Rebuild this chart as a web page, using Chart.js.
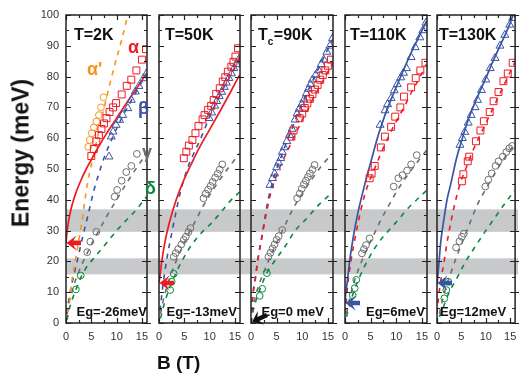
<!DOCTYPE html>
<html><head><meta charset="utf-8">
<script src="https://cdn.jsdelivr.net/npm/chart.js@4.4.1/dist/chart.umd.min.js"></script>
<style>
html,body{margin:0;padding:0;background:#fff;}
#wrap{position:relative;width:521px;height:376px;overflow:hidden;background:#fff;}
#wrap canvas{position:absolute;top:0;}
.lab{position:absolute;white-space:nowrap;font-family:"Liberation Sans",Arial,sans-serif;font-weight:bold;color:#111;line-height:normal;}
#ylab{left:21px;top:153px;font-size:23px;transform:translate(-50%,-50%) rotate(-90deg);}
#xlab{left:157px;top:352px;font-size:19px;}
</style></head><body>
<div id="wrap">
<canvas id="c0"></canvas><canvas id="c1"></canvas><canvas id="c2"></canvas><canvas id="c3"></canvas><canvas id="c4"></canvas>
<div class="lab" id="ylab">Energy (meV)</div>
<div class="lab" id="xlab">B (T)</div>
</div>
<script>
// ---------- DATA ----------
const panelTitles = ['T=2K', 'T=50K', 'Tc=90K', 'T=110K', 'T=130K'];
const egLabels = ['Eg=-26meV', 'Eg=-13meV', 'Eg=0 meV', 'Eg=6meV', 'Eg=12meV'];
const arrowEnergy = [26, 13, 0, 6.5, 13];
const xTicks = [0, 5, 10, 15];
const yTicks = [0, 10, 20, 30, 40, 50, 60, 70, 80, 90, 100];
const bandLow = [15.8, 21.0];
const bandHigh = [29.6, 36.9];

// T = 2K
const alpha_2K = [[5.0,54.2],[5.5,56.5],[6.0,59],[6.5,61],[7.0,63],[7.5,64.8],[8.0,66.5],[8.6,68.5],[9.3,70],[9.9,71.4],[11.0,74.2],[12.0,77],[12.9,79],[13.9,82],[15.0,85.5],[15.8,88.9]];
const alphaP_2K = [[4.4,57.2],[4.7,59.4],[5.1,61.6],[5.5,63.5],[6.0,65.4],[6.5,67.5],[6.9,70],[7.4,73.3]];
const beta_2K = [[8.5,54],[8.95,60.5],[9.3,62.1],[9.9,64.3],[10.6,65.9],[11.2,67.5],[12.2,69.7],[12.9,72.4],[13.7,75.1],[14.4,76.9],[15.3,79.4],[15.9,81]];
const gamma_2K = [[4.2,23],[4.8,26.4],[6.0,29.6],[9.6,41],[10.1,43.2],[11.0,46.2],[11.9,49],[12.9,51],[14.0,54.9]];
const delta_2K = [[1.96,10.9],[2.9,15.4]];
const alphaFit_2K = [[0,26],[0.2,29.5],[0.5,33],[1,37],[1.5,40],[2,42.5],[3,46.5],[4,50],[5,53],[6,56],[8,61.5],[10,66.5],[12,71.5],[14,76.3],[15.9,81]];
const alphaPLine_2K = [[0,0],[0.2,2.5],[0.5,5],[0.8,8.5],[1.1,13],[1.6,18],[2.2,23.7],[2.75,29],[3.3,34.5],[3.7,39.5],[4.2,45],[5.5,55],[7.4,69],[9.5,83],[11,92],[12.2,100]];
const betaLine_2K = [[0.2,3],[0.5,7],[1,11.5],[1.7,16.5],[2.4,21.5],[3.3,28],[4.2,34],[5.5,43],[6.5,48.5],[7.6,54],[9,59.5],[11,66.5],[13,72.5],[15.9,81]];
const gammaLine_2K = [[0.2,3],[0.5,6],[1,9],[2,14.5],[3,18.5],[4,22],[5,25.5],[6,28.5],[8,34.5],[10,40],[12,45.5],[14,50.5],[15.9,55]];
const deltaLine_2K = [[0.2,1],[0.5,3.5],[1,6.5],[2,11],[3,15],[4,18],[6,22],[8,26],[10,30],[12,33.5],[14,37],[15.9,41]];

// T = 50K
const alpha_50K = [[4.9,53.5],[5.4,55.6],[5.9,57.6],[6.6,59.4],[7.2,61.6],[7.8,64],[8.6,66.1],[9.0,67.5],[9.7,69.2],[10.3,70.5],[10.8,72.4],[11.3,74.4],[12.0,76.2],[12.6,78.4],[13.1,79.8],[13.6,81.6],[14.3,83.2],[14.7,84.8],[15.1,86.5],[15.6,89.2]];
const beta_50K = [[9.9,66.5],[10.4,68.3],[11.0,70.5],[11.4,72],[11.9,73.6],[12.4,75],[12.9,76.6],[13.3,78],[13.8,79.5],[14.3,81],[14.8,82.7],[15.3,84],[15.7,85.4]];
const gamma_50K = [[2.9,21.5],[3.3,22.7],[3.8,24],[4.4,25.5],[4.9,27],[5.3,28],[5.8,29.5],[6.2,30.8],[8.8,40.5],[9.2,42],[9.7,43.3],[10.2,44.5],[10.6,45.8],[11.1,47.2],[11.6,48.5],[12.0,49.8],[12.5,51.5]];
const delta_50K = [[2.2,10.7],[2.5,13.4],[2.9,16]];
const alphaFit_50K = [[0,13],[0.25,16],[0.5,19.5],[1.2,26.5],[2.2,33.5],[3.5,40.5],[4.8,46],[6.5,52],[8,57],[10,62.8],[12,68.6],[14,74.6],[15.9,80.5]];
const betaLine_50K = [[0.2,4],[0.7,11.3],[1.2,17.2],[1.8,23.2],[2.5,29],[3.3,35.6],[4.0,41],[4.8,46],[5.8,51],[7,55.5],[8.4,60.5],[9.5,65],[11,70.5],[12.5,75.5],[14,80],[15.9,86]];
const gammaLine_50K = [[0.3,3],[1,8.5],[2,14],[3,18.5],[4,22.5],[5,26],[6,29.5],[7,32.5],[8.4,37],[10,41.5],[12,46.5],[14,51],[15.9,55]];
const deltaLine_50K = [[0.3,1.5],[1,6],[2,11],[3,15],[4.5,20],[6.5,25.5],[8.5,29.5],[10.4,32.5],[12.5,36.5],[14,39.5],[15.9,42.5]];

// Tc = 90K
const alpha_90K = [[7.9,60.5],[8.3,62.5],[9.5,66.5],[10.0,68],[10.5,69.8],[11.0,71.3],[11.5,72.8],[12.0,74.3],[12.5,75.8],[13.0,77.3],[13.5,79],[14.0,80.5],[14.5,82],[15.0,83.5],[15.6,85.5]];
const beta_90K = [[3.7,44.8],[4.2,47],[4.6,48.5],[5.0,50.5],[5.4,52],[5.8,53.5],[6.1,55.5],[6.5,57],[7.0,59],[7.5,61],[8.0,63],[8.6,66],[9.0,68],[9.4,69.5],[9.9,71],[10.3,72.5],[10.8,74.5],[11.2,76],[11.6,77.5],[12.0,79],[12.6,80.5],[13.2,82],[13.7,84],[14.2,85.5],[14.8,88],[15.4,90],[15.9,92.4]];
const gamma_90K = [[3.4,21.5],[3.8,22.8],[4.2,24.2],[4.6,25.5],[5.0,27],[5.4,28.2],[6.1,30.2],[9.0,40.5],[9.5,42],[9.9,43.6],[10.3,45],[10.7,46.2],[11.1,47.4],[11.5,48.6],[12.0,49.8],[12.4,51.3]];
const delta_90K = [[1.7,8.8],[2.2,11.1],[3.1,16.2]];
const alphaLine_90K = [[0,0],[0.25,7],[0.8,13.5],[1.4,21],[2.1,27.5],[2.75,33.5],[3.4,39],[4,43],[5,48],[6,52],[7,55.5],[8,59],[9,62.5],[10,66],[11,69],[12,72.5],[13,75.5],[14,78.5],[15,81.5],[15.9,84]];
const betaLine_90K = [[0,0],[0.25,7.5],[0.8,14.5],[1.4,21.5],[2.1,28],[2.75,34.5],[3.4,40.5],[4,44.5],[5,50],[6,54.5],[7,59],[8,63],[9,67.5],[10,71.5],[11,75],[12,78.5],[13,82],[14,85.5],[15,89],[15.9,92]];
const gammaLine_90K = [[0,0],[0.3,4.5],[1,9.5],[2,14.5],[3,18.5],[4,22.5],[5,26],[6,29.5],[7,33],[8,36.5],[10,42],[12,47],[14,51.5],[15.9,55]];
const deltaLine_90K = [[0,0],[0.3,3],[1,7.5],[2,12],[3,16],[5,21],[6.7,25],[8.6,30],[10.9,34],[12.9,37.8],[15.9,42.5]];

// T = 110K
const alpha_110K = [[4.8,47],[5.2,48.5],[5.8,51],[7.0,57],[7.8,60.5],[9.0,63.7],[9.8,67],[10.8,70],[11.5,73.5],[12.9,76.5],[13.8,79.5],[14.7,82],[15.7,84.5]];
const beta_110K = [[6.85,64.3],[7.8,69],[8.3,71],[9.0,73],[9.6,75.5],[10.2,77.5],[10.9,79.7],[11.4,81.2],[12.0,82.7],[12.9,86.3],[13.7,89.5],[14.6,92.7],[15.2,95],[15.8,97.5]];
const gamma_110K = [[3.3,22.6],[3.7,24],[4.1,25.3],[4.8,27.5],[9.5,44.3],[10.4,47],[11.2,48],[12.1,49.5],[12.9,51.5],[14.0,54.5]];
const delta_110K = [[1.5,9],[1.9,11.3],[2.2,14]];
const betaFit_110K = [[0,6.5],[0.1,9],[0.45,13.5],[0.9,20],[1.57,27.5],[2.55,36],[3.86,45],[5.16,53],[6.5,61],[7.8,67.5],[9.1,73],[11.0,80.5],[12.7,87],[14.3,92.5],[15.9,98]];
const alphaLine_110K = [[0,3],[0.2,6],[0.5,12],[1.2,20.5],[1.9,27],[2.55,32.5],[3.5,39.5],[4.5,45],[5.5,49],[7,55],[8.5,60.5],[10,65.5],[11.5,70],[13,75],[14.5,79.5],[15.9,84]];
const gammaLine_110K = [[0.3,3],[1,8.5],[2,14.5],[3,19],[4,23],[5,26.5],[6,30],[7,33.5],[8.5,38],[10,42.5],[12,47.5],[14,52],[15.9,56]];
const deltaLine_110K = [[0.3,2],[1,6.5],[2,11.5],[3,15.5],[4.8,21.5],[6.5,26],[8.5,30],[10.4,33.5],[12,36.7],[14.3,40.5],[15.9,43]];

// T = 130K
const alpha_130K = [[5.1,46],[5.4,48.3],[6.3,52.5],[6.6,54],[8.0,59],[8.9,62.5],[9.6,65.5],[10.8,68.5],[11.6,72],[12.6,75],[13.6,78.5],[14.5,81],[15.5,84.5]];
const beta_130K = [[4.7,57.8],[5.2,60],[5.7,62],[6.4,65],[7.0,67.5],[7.8,70],[8.3,72.4],[9.1,75.6],[10.0,79],[10.9,82.7],[11.9,86],[12.9,90],[13.9,93.5],[14.9,96.8],[15.5,99]];
const gamma_130K = [[3.9,24.5],[4.6,26.5],[5.1,28],[5.5,29],[9.9,44.3],[10.5,46.5],[11.2,48.6],[12.0,51],[12.6,52.5],[13.5,54],[14.2,55.5],[14.8,56.7],[15.4,57.5]];
const delta_130K = [[1.5,8],[1.9,10.7],[2.3,13.4]];
const betaFit_130K = [[0,12.5],[0.1,14],[0.4,19.5],[0.75,26],[1.3,32.5],[2.05,40],[2.8,45],[4.0,53.5],[5.0,59],[6.3,65.5],[7.9,72],[9.0,76],[10,79.5],[11.2,84],[12.9,90],[14.5,95.5],[15.6,100]];
const alphaLine_130K = [[0,3],[0.3,8],[0.7,13],[1.4,19.5],[2.05,26],[3.0,34],[4.0,41],[4.8,45.5],[6,50.5],[7.5,56.5],[9,61.5],[10.5,66.5],[12,71.5],[13.5,76.5],[15,81.5],[15.9,84.5]];
const gammaLine_130K = [[0.5,3],[1.2,8],[2,12.5],[3,17],[4,21.5],[5,25.5],[6,29.5],[7,33.5],[8.3,38.5],[10,43.5],[12,49],[14,54],[15.9,58]];
const deltaLine_130K = [[0.5,2],[1.5,6],[2.5,10],[3.9,14],[5.7,19.5],[7.7,24.5],[10,30],[12.2,35],[14,39],[15.9,43]];

// ---------- STYLE / LAYOUT ----------
const FONT = '"Liberation Sans", Arial, sans-serif';
const C = { red:'#ec1c24', blue:'#3a54a4', orange:'#f7941d', gray:'#6d6e71', green:'#0b8a3e', band:'#c8c9ca', frame:'#222', black:'#111' };
const plotLeft = [66, 159, 251, 345, 437];
const plotRight = [147, 240, 333, 427, 518];
const PLOT_TOP = 15, PLOT_BOTTOM = 323, H = 376, W = 521;

const toXY = arr => arr.map(p => ({ x: p[0], y: p[1] }));
function marks(arr, style, color, r) {
  return { data: toXY(arr), showLine: false, pointStyle: style, pointRadius: r, pointHoverRadius: r,
    pointBorderColor: color, pointBackgroundColor: 'rgba(255,255,255,0)', pointBorderWidth: 1, borderColor: color };
}
function curve(arr, color, dashed, w) {
  return { data: toXY(arr), showLine: true, pointRadius: 0, pointHoverRadius: 0, borderColor: color,
    borderWidth: w || 1.6, borderDash: dashed ? [5, 5.5] : [], cubicInterpolationMode: 'monotone', fill: false };
}
const SQ = 4.9, TR = 4.6, CI = 3.4;

const panelData = [
  [ marks(alpha_2K,'rect',C.red,SQ), marks(alphaP_2K,'circle',C.orange,CI), marks(beta_2K,'triangle',C.blue,TR),
    marks(gamma_2K,'circle',C.gray,CI), marks(delta_2K,'circle',C.green,CI),
    curve(alphaFit_2K,C.red,false,1.7), curve(alphaPLine_2K,C.orange,true), curve(betaLine_2K,C.blue,true),
    curve(gammaLine_2K,C.gray,true), curve(deltaLine_2K,C.green,true) ],
  [ marks(alpha_50K,'rect',C.red,SQ), marks(beta_50K,'triangle',C.blue,TR),
    marks(gamma_50K,'circle',C.gray,CI), marks(delta_50K,'circle',C.green,CI),
    curve(alphaFit_50K,C.red,false,1.7), curve(betaLine_50K,C.blue,true),
    curve(gammaLine_50K,C.gray,true), curve(deltaLine_50K,C.green,true) ],
  [ marks(alpha_90K,'rect',C.red,SQ), marks(beta_90K,'triangle',C.blue,TR),
    marks(gamma_90K,'circle',C.gray,CI), marks(delta_90K,'circle',C.green,CI),
    curve(alphaLine_90K,C.red,true), curve(betaLine_90K,C.blue,true),
    curve(gammaLine_90K,C.gray,true), curve(deltaLine_90K,C.green,true) ],
  [ marks(alpha_110K,'rect',C.red,SQ), marks(beta_110K,'triangle',C.blue,TR),
    marks(gamma_110K,'circle',C.gray,CI), marks(delta_110K,'circle',C.green,CI),
    curve(betaFit_110K,C.blue,false,1.7), curve(alphaLine_110K,C.red,true),
    curve(gammaLine_110K,C.gray,true), curve(deltaLine_110K,C.green,true) ],
  [ marks(alpha_130K,'rect',C.red,SQ), marks(beta_130K,'triangle',C.blue,TR),
    marks(gamma_130K,'circle',C.gray,CI), marks(delta_130K,'circle',C.green,CI),
    curve(betaFit_130K,C.blue,false,1.7), curve(alphaLine_130K,C.red,true),
    curve(gammaLine_130K,C.gray,true), curve(deltaLine_130K,C.green,true) ]
];

const arrowColor = [C.red, C.red, C.black, C.blue, C.blue];
const titleDx = [8, 6, 7, 5, 2];
const egDx = [10.5, 7.5, 10.5, 21, 3];
const greekLabels = [
  { t:'α', c:C.red, x:128, y:53 },
  { t:"α'", c:C.orange, x:87, y:75 },
  { t:'β', c:C.blue, x:138, y:114 },
  { t:'γ', c:C.gray, x:142, y:158 },
  { t:'δ', c:C.green, x:145, y:194 }
];

function drawArrow(ctx, x1, y1, x2, y2, color) {
  const ang = Math.atan2(y2 - y1, x2 - x1), L = Math.hypot(x2 - x1, y2 - y1);
  const hl = 8, hw = 7.5, sw = 4.6;
  ctx.save(); ctx.translate(x2, y2); ctx.rotate(ang); ctx.fillStyle = color;
  ctx.beginPath();
  ctx.moveTo(0, 0); ctx.lineTo(-hl - 2, -hw); ctx.lineTo(-hl + 1, -sw / 2); ctx.lineTo(-L, -sw / 2);
  ctx.lineTo(-L, sw / 2); ctx.lineTo(-hl + 1, sw / 2); ctx.lineTo(-hl - 2, hw); ctx.closePath();
  ctx.fill(); ctx.restore();
}

const deco = {
  id: 'deco',
  beforeDatasetsDraw(chart, args, o) {
    const { ctx, chartArea: a, scales: { y } } = chart;
    ctx.save(); ctx.fillStyle = C.band;
    for (const [lo, hi] of [bandLow, bandHigh]) {
      const y1 = y.getPixelForValue(hi), y2 = y.getPixelForValue(lo);
      ctx.fillRect(a.left, y1, o.bandRight - a.left, y2 - y1);
    }
    ctx.restore();
  },
  afterDraw(chart, args, o) {
    const { ctx, chartArea: a, scales: { x, y } } = chart;
    const i = o.idx;
    ctx.save();
    // ticks
    ctx.strokeStyle = C.frame; ctx.lineWidth = 1.2;
    ctx.beginPath();
    for (let v = 0; v <= 100; v += 5) {
      const py = Math.round(y.getPixelForValue(v)) + 0.5;
      const len = v % 10 === 0 ? 5 : 3;
      ctx.moveTo(a.left, py); ctx.lineTo(a.left + len, py);
      ctx.moveTo(a.right, py); ctx.lineTo(a.right - len, py);
      if (v % 10 === 0) { ctx.moveTo(a.right, py); ctx.lineTo(a.right + 4, py); }
    }
    for (let v = 0; v <= 15; v += 2.5) {
      const px = Math.round(x.getPixelForValue(v)) + 0.5;
      const len = v % 5 === 0 ? 5 : 3;
      ctx.moveTo(px, a.bottom); ctx.lineTo(px, a.bottom - len);
      ctx.moveTo(px, a.top); ctx.lineTo(px, a.top + len);
    }
    ctx.stroke();
    // frame
    ctx.lineWidth = 1.5;
    ctx.strokeRect(a.left, a.top, a.right - a.left, a.bottom - a.top);
    // arrow
    const ty = y.getPixelForValue(arrowEnergy[i]);
    if (arrowEnergy[i] === 0) drawArrow(ctx, a.left + 16, ty - 8, a.left + 1, ty - 1, arrowColor[i]);
    else drawArrow(ctx, a.left + 15, ty, a.left + 0.5, ty, arrowColor[i]);
    // title
    ctx.fillStyle = C.black; ctx.textBaseline = 'alphabetic'; ctx.textAlign = 'left';
    ctx.font = 'bold 16px ' + FONT;
    let tx = a.left + titleDx[i];
    const title = panelTitles[i];
    if (title.startsWith('Tc')) {
      ctx.fillText('T', tx, 40); tx += ctx.measureText('T').width;
      ctx.font = 'bold 10px ' + FONT; ctx.fillText('c', tx, 45); tx += ctx.measureText('c').width + 0.5;
      ctx.font = 'bold 16px ' + FONT; ctx.fillText(title.slice(2), tx, 40);
    } else ctx.fillText(title, tx, 40);
    // Eg label
    ctx.font = 'bold 13px ' + FONT;
    ctx.fillText(egLabels[i], a.left + egDx[i], 316);
    // greek labels
    if (i === 0) {
      ctx.font = 'bold 18px ' + FONT;
      for (const g of greekLabels) { ctx.fillStyle = g.c; ctx.fillText(g.t, g.x, g.y); }
    }
    ctx.restore();
  }
};

for (let i = 0; i < 5; i++) {
  const cLeft = i === 0 ? 0 : plotLeft[i] - 12;
  const cRight = i < 4 ? plotLeft[i + 1] : W;
  const cw = cRight - cLeft;
  const canvas = document.getElementById('c' + i);
  canvas.width = cw; canvas.height = H;
  canvas.style.left = cLeft + 'px'; canvas.style.width = cw + 'px'; canvas.style.height = H + 'px';
  const yWidth = plotLeft[i] - cLeft;
  const padRight = cRight - plotRight[i];
  new Chart(canvas, {
    type: 'scatter',
    data: { datasets: panelData[i] },
    options: {
      responsive: false, animation: false, devicePixelRatio: 1,
      layout: { padding: { top: PLOT_TOP, right: padRight, left: 0, bottom: 0 } },
      plugins: { legend: { display: false }, tooltip: { enabled: false },
        deco: { idx: i, bandRight: i < 4 ? cw : plotRight[i] - cLeft } },
      scales: {
        x: { type: 'linear', min: 0, max: 16, position: 'bottom',
          grid: { display: false, drawTicks: false }, border: { display: false },
          ticks: { font: { size: 11, family: FONT }, color: '#333', padding: 7, maxRotation: 0, autoSkip: false },
          afterBuildTicks: s => { s.ticks = xTicks.map(v => ({ value: v })); },
          afterFit: s => { s.height = H - PLOT_BOTTOM; s.paddingLeft = 0; s.paddingRight = 0; } },
        y: { type: 'linear', min: 0, max: 100, position: 'left',
          grid: { display: false, drawTicks: false }, border: { display: false },
          ticks: { display: i === 0, font: { size: 11, family: FONT }, color: '#333', padding: 7, autoSkip: false },
          afterBuildTicks: s => { s.ticks = yTicks.map(v => ({ value: v })); },
          afterFit: s => { s.width = yWidth; s.paddingTop = 0; s.paddingBottom = 0; } }
      }
    },
    plugins: [deco]
  });
}
</script>
</body></html>
